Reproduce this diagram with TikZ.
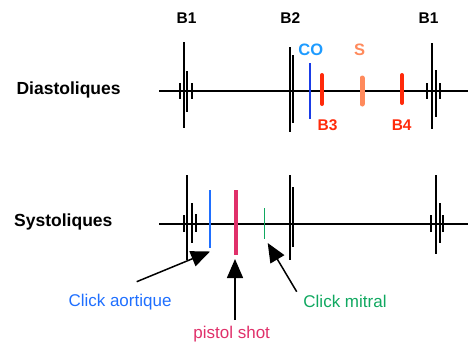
\documentclass[tikz,border=0pt]{standalone}
\usepackage{fontspec}
\setmainfont{Liberation Sans}
\usepackage{xcolor}
\definecolor{co}{RGB}{30,155,255}
\definecolor{coline}{RGB}{26,60,230}
\definecolor{souffle}{RGB}{255,138,92}
\definecolor{galop}{RGB}{255,42,10}
\definecolor{aort}{RGB}{31,111,255}
\definecolor{pist}{RGB}{224,48,106}
\definecolor{mitr}{RGB}{16,168,96}
\usepackage{tikz}
\usetikzlibrary{arrows.meta}

\begin{document}
\begin{tikzpicture}[
    x=1pt, y=-1pt,
    beat/.style={line width=1.7pt},
    title/.style={font=\fontsize{17.5}{20}\selectfont\bfseries},
    lbl/.style={font=\fontsize{15.5}{19}\selectfont\bfseries},
    txt/.style={font=\fontsize{17}{20}\selectfont},
    pointer/.style={line width=1.5pt, -{Triangle[length=19pt,width=16pt]}}
    ]
    \useasboundingbox (0,0) rectangle (476,343);

    % row titles and sound names
    \node[title] (dia) at (68.6,90) {Diastoliques};
    \node[title] (sys) at (63.3,221.7) {Systoliques};
    \node[lbl] (b1a) at (186.5,18.3) {B1};
    \node[lbl] (b2) at (290.3,18.3) {B2};
    \node[lbl] (b1b) at (428.5,18.3) {B1};
    \node[lbl, font=\fontsize{16.5}{19}\selectfont\bfseries, text=co] (co) at (310.8,50) {CO};
    \node[lbl, font=\fontsize{16.5}{19}\selectfont\bfseries, text=souffle] (s) at (359.7,50) {S};
    \node[lbl, text=galop] (b3) at (327.5,125) {B3};
    \node[lbl, text=galop] (b4) at (401.7,125) {B4};

    % baselines
    \draw[beat] (159,91) -- (468,91);
    \draw[beat] (159,224) -- (468,224);

    % B1, B2, B1 (diastole)
    \foreach \x/\ya/\yb in {184.3/42/128, 187.3/71/112, 180/83/99, 191.7/83/99,
        290/47/132, 292.7/55/123,
        431.7/43/129, 435.7/70/117, 426.7/83/99, 440.3/83/99}
        \draw[beat] (\x,\ya) -- (\x,\yb);

    % B1, B2, B1 (systole)
    \foreach \x/\ya/\yb in {187.3/175/260, 191.7/203/243, 184/215/232, 196/214/232,
        290/175/260, 292.7/187/247,
        436/175/254, 440/203/243, 431/215/232, 443.3/215/232}
        \draw[beat] (\x,\ya) -- (\x,\yb);

    % extra sounds
    \draw[coline, line width=2pt] (310,63) -- (310,119);
    \draw[galop, line width=4pt, line cap=round] (322,75) -- (322,104);
    \draw[souffle, line width=5pt, line cap=round] (362,78) -- (362,104);
    \draw[galop, line width=4pt, line cap=round] (402,75) -- (402,103);

    \draw[aort, line width=1.6pt] (210,190) -- (210,248);
    \draw[pist, line width=3.2pt] (236,190) -- (236,255);
    \draw[mitr, line width=1.6pt] (264.3,208) -- (264.3,239);

    % labels below
    \node[txt, text=aort] (aortique) at (120,301.7) {Click aortique};
    \node[txt, text=pist] (pistol) at (231.7,334.3) {pistol shot};
    \node[txt, text=mitr] (mitral) at (345,301.7) {Click mitral};

    \coordinate (aortFrom) at (136.7,281.7);
    \coordinate (aortTip) at (210,251.5);
    \coordinate (pistFrom) at (235,320);
    \coordinate (pistTip) at (235,259);
    \coordinate (mitrFrom) at (296.7,291.7);
    \coordinate (mitrTip) at (267.7,243);

    \draw[pointer] (aortFrom) -- (aortTip);
    \draw[pointer] (pistFrom) -- (pistTip);
    \draw[pointer] (mitrFrom) -- (mitrTip);
\end{tikzpicture}
\end{document}
